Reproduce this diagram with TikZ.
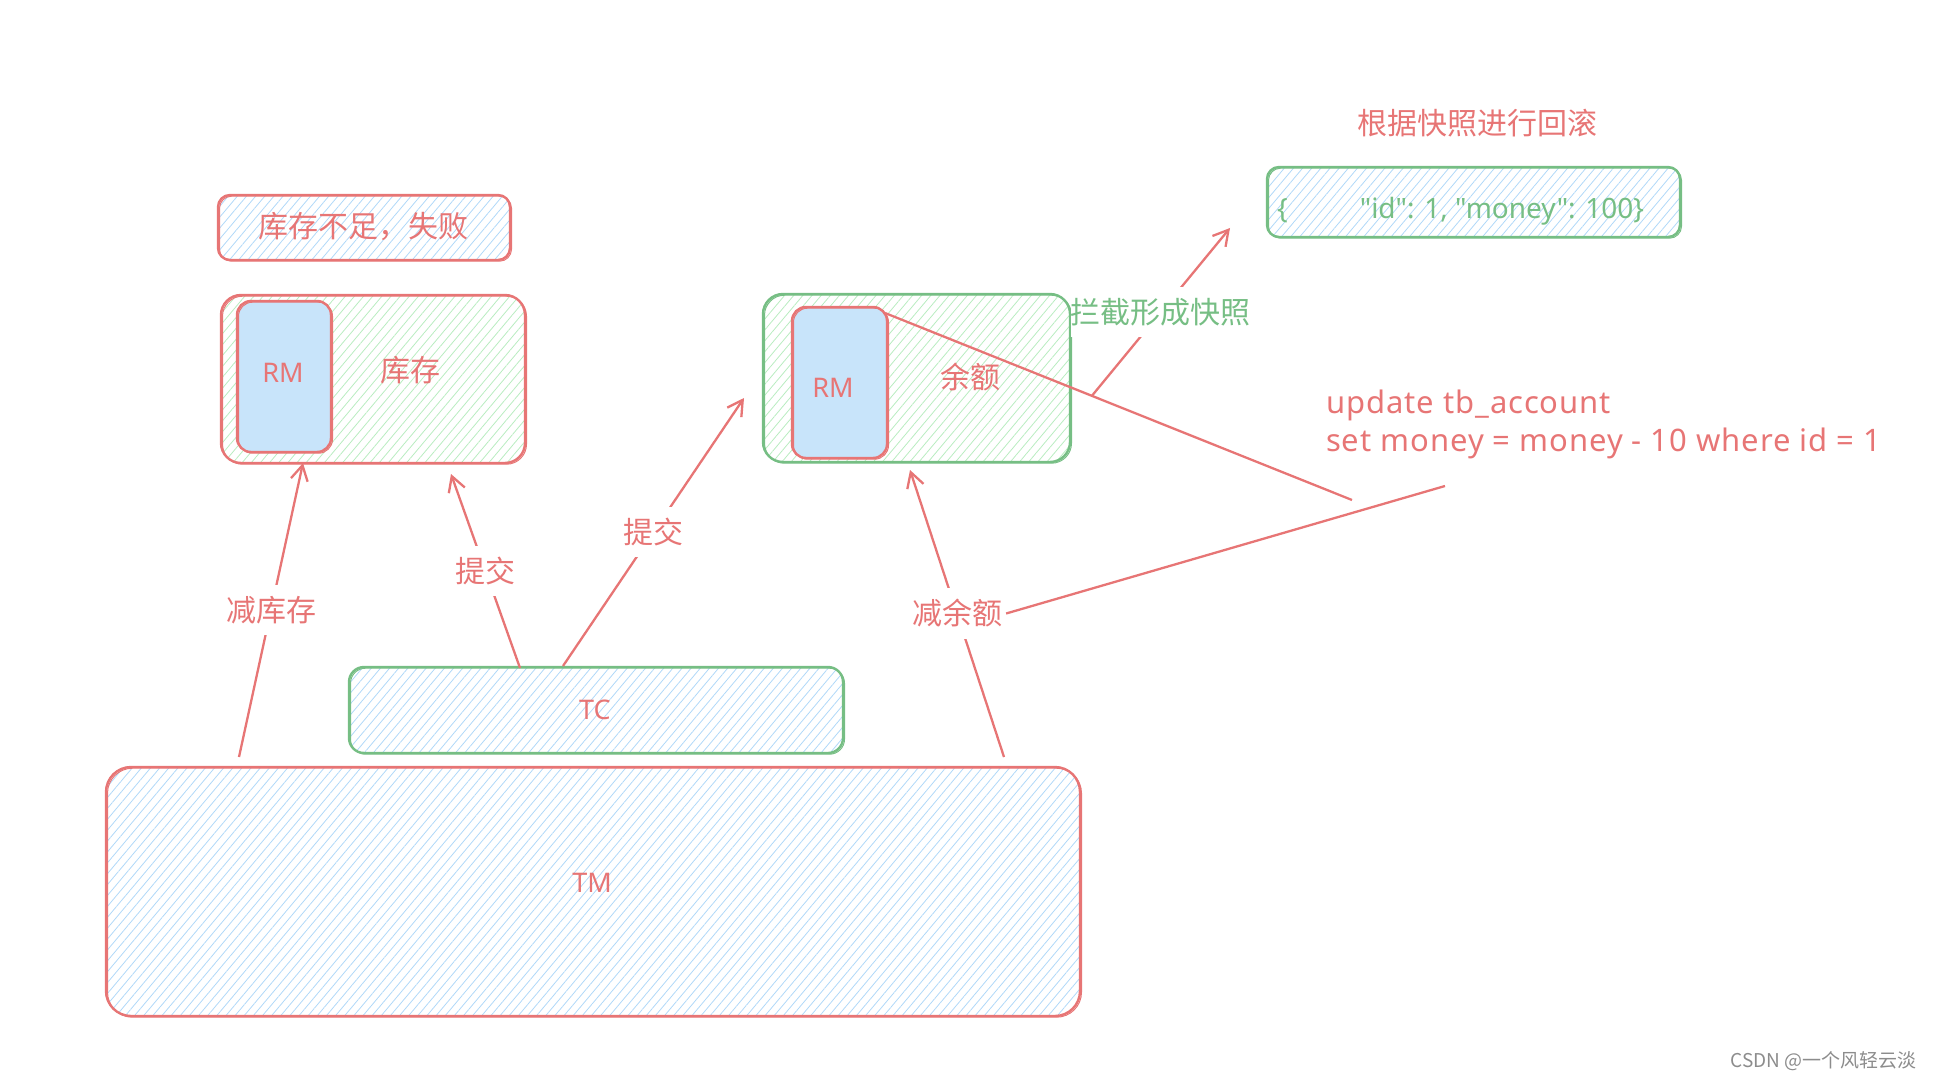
\documentclass[tikz,border=0pt]{standalone}
\usepackage{fontspec}
\setmainfont{Noto Sans CJK SC}
\newfontfamily\lat{Noto Sans}
\newfontfamily\latsp[LetterSpace=3]{Noto Sans}
\usetikzlibrary{arrows.meta,patterns.meta,calc}
\definecolor{xred}{RGB}{231,117,117}
\definecolor{xgreen}{RGB}{118,190,132}
\definecolor{hblue}{RGB}{176,216,248}
\definecolor{hgreen}{RGB}{184,236,192}
\definecolor{rmfill}{RGB}{200,228,250}
\definecolor{wmgray}{RGB}{140,140,140}
\begin{document}
\begin{tikzpicture}[x=1pt,y=-1pt,
  box/.style={rectangle, rounded corners=#1, line width=2.4pt, inner sep=0pt, outer sep=0pt, anchor=north west,
    postaction={draw, line width=1pt, transform canvas={shift={(1.5pt,-1.2pt)}}}},
  box/.default=18pt,
  bhatch/.style={pattern={Lines[angle=50,distance=7pt,line width=0.8pt]}, pattern color=hblue},
  ghatch/.style={pattern={Lines[angle=50,distance=7pt,line width=0.8pt]}, pattern color=hgreen},
  txt/.style={font=\fontsize{30}{36}\selectfont, text=xred, inner sep=0pt},
  rmtxt/.style={txt, font=\lat\fontsize{27}{30}\selectfont},
  arr/.style={draw=xred, line width=2.3pt, -{Straight Barb[length=15pt,width=17pt,line width=2.3pt]}},
  plain/.style={draw=xred, line width=2.3pt},
  lab/.style={txt, fill=white, inner xsep=3pt, inner ysep=11pt},
]
\useasboundingbox (0,0) rectangle (1933,1078);

% boxes
\node[box=12pt, draw=xred, bhatch, minimum width=292pt, minimum height=65pt] (fail) at (218,195) {};
\node[txt] (failT) at (363,227) {库存不足，失败};

\node[box=20pt, draw=xred, ghatch, minimum width=304pt, minimum height=168pt] (stock) at (221,295) {};
\node[box=14pt, draw=xred, fill=rmfill, minimum width=94pt, minimum height=151pt] (rmL) at (237,301) {};
\node[rmtxt] (rmLT) at (283,373) {RM};
\node[txt] (stockT) at (410,370) {库存};

\node[box=20pt, draw=xgreen, ghatch, minimum width=307pt, minimum height=168pt] (bal) at (763,294) {};
\node[box=14pt, draw=xred, fill=rmfill, minimum width=95pt, minimum height=151pt] (rmR) at (792,307) {};
\node[rmtxt] (rmRT) at (833,388) {RM};
\node[txt] (balT) at (970,377) {余额};

\node[txt] (snapTitle) at (1477,123) {根据快照进行回滚};
\node[box=12pt, draw=xgreen, bhatch, minimum width=413pt, minimum height=70pt] (snap) at (1267,167) {};
\node[txt, text=xgreen, anchor=west, font=\lat\fontsize{28}{32}\selectfont] (snapT) at (1277,211) {\{\hspace{72pt}"id": 1, "money": 100\}};

\node[box=15pt, draw=xgreen, bhatch, minimum width=494pt, minimum height=86pt] (tc) at (349,667) {};
\node[rmtxt] (tcT) at (595,710) {TC};

\node[box=25pt, draw=xred, bhatch, minimum width=974pt, minimum height=249pt] (tm) at (106,767) {};
\node[rmtxt] (tmT) at (592,883) {TM};

\node[txt, anchor=west, align=left, font=\latsp\fontsize{31}{38}\selectfont] (sql) at (1326,424) {update tb\_account\\set money = money - 10 where id = 1};

\node[font=\fontsize{19}{22}\selectfont, text=wmgray, anchor=east, inner sep=0pt] (wm) at (1917,1061) {CSDN @一个风轻云淡};

% free ends
\coordinate (e1) at (1352,500);
\coordinate (e2) at (1445,486);
\coordinate (l1s) at ($(rmR.north east)+(-2,6)$);

% connectors
\draw[arr] ($(tm.north west)+(133,-10)$) -- node[lab] (lab1) {减库存} ($(stock.south west)+(82,0)$);
\draw[arr] ($(tc.north west)+(171,1)$) -- node[lab] (lab2) {提交} ($(stock.south west)+(230,11)$);
\draw[arr] ($(tc.north west)+(214,-1)$) -- node[lab] (lab3) {提交} ($(bal.west)+(-19,20)$);
\draw[arr] ($(tm.north west)+(898,-10)$) -- node[lab] (lab4) {减余额} ($(bal.south west)+(147,8)$);
\draw[plain] (l1s) -- (e1);
\draw[plain] (lab4.east) -- (e2);
\draw[arr] ($(l1s)!0.443!(e1)$) -- node[lab, text=xgreen, inner xsep=0pt] (lab5) {拦截形成快照} ($(snap.south west)+(-37,-9)$);
\end{tikzpicture}
\end{document}
